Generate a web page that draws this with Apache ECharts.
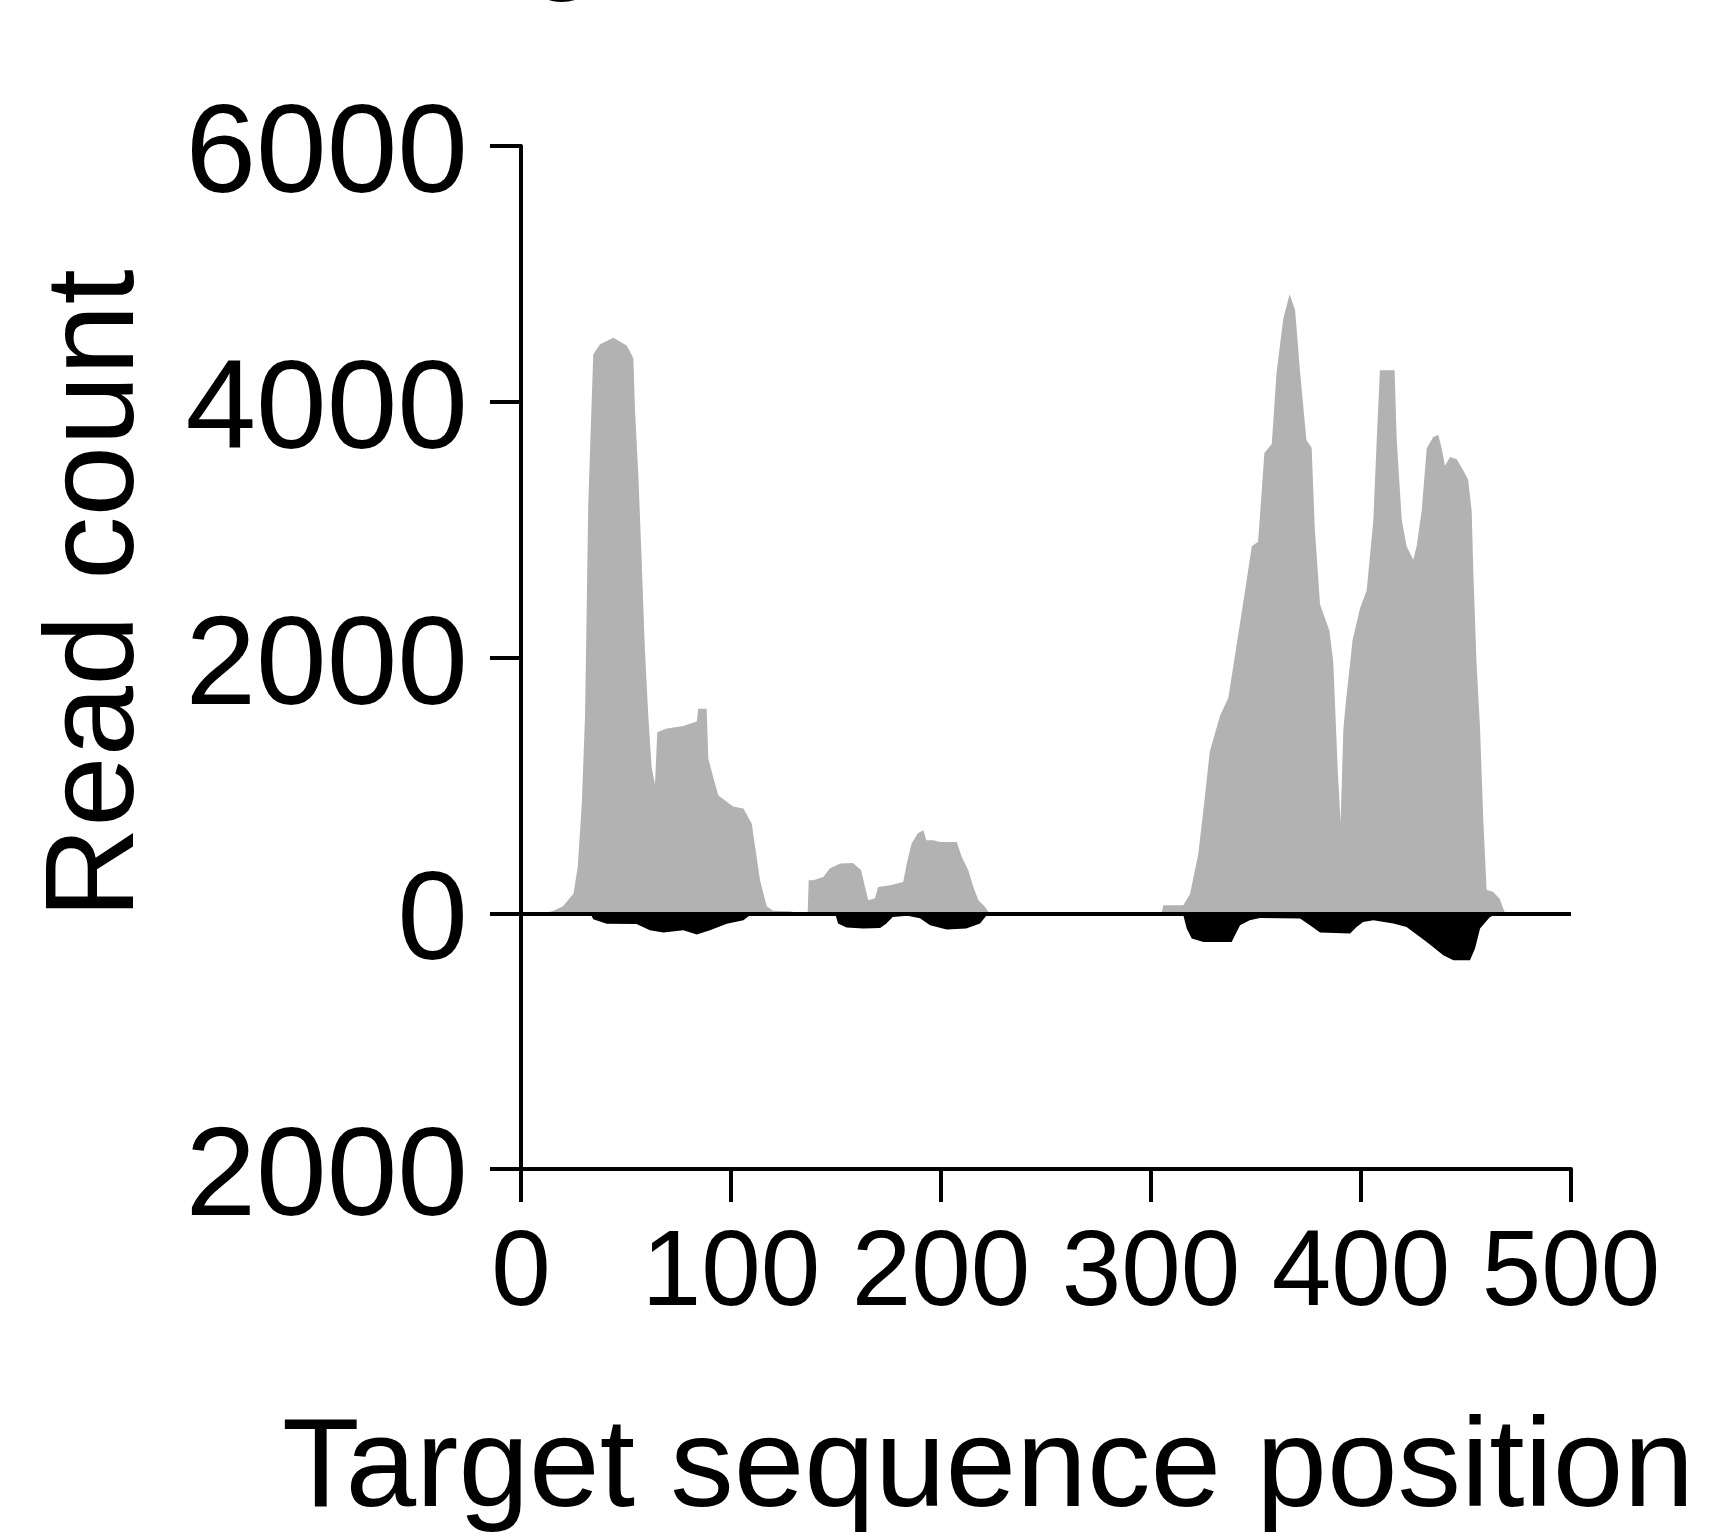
<!DOCTYPE html>
<html>
<head>
<meta charset="utf-8">
<script src="https://cdn.jsdelivr.net/npm/echarts@6/dist/echarts.min.js"></script>
<style>
  html, body { margin: 0; padding: 0; background: #ffffff; }
  #chart { width: 1712px; height: 1539px; }
</style>
</head>
<body>
<div id="chart"></div>
<script>
// Read coverage along the target: sense reads (grey, above 0) and antisense reads (black, below 0)
const senseX = [0, 10, 15, 20, 25, 27, 29, 30.5, 31.3, 32, 34.4, 37.6, 44, 50.3, 53.5, 54.3, 55.9, 57.5, 59, 60.6,
  62.2, 63.8, 64.9, 69.4, 77.3, 83.7, 84.4, 88.4, 89.2, 92.4, 94, 101, 105.9, 109.9, 111.4, 113.8, 117, 120, 128, 133,
  136.5, 137, 139.2, 144, 147, 152, 158, 162, 163.8, 165.4, 168.6, 170, 175.7, 182, 183.7, 186, 189, 191.6, 193, 196.3,
  199.5, 207.5, 209.9, 213, 215.4, 217.8, 221, 223, 305, 305.9, 315.4, 318.6, 322.5, 325.7, 328, 332.9, 336.8, 340.8,
  344.8, 348, 351, 354, 357.5, 359.8, 363, 366, 368.6, 371, 374, 376.5, 378, 380.5, 385, 386.8, 389, 390.3, 391.6, 393,
  396, 399.5, 402.7, 405.9, 407.5, 409, 416, 417, 419.4, 421.7, 424.9, 426.5, 428.9, 431.3, 434.4, 436.8, 438.4, 440,
  442.4, 445.6, 448.7, 451, 452.7, 453.5, 455, 456.7, 458.2, 459.8, 463, 466, 468.6, 500];
const senseCount = [0, 0, 15, 55, 155, 360, 870, 1550, 2400, 3180, 4370, 4450, 4500, 4440, 4340, 3930, 3420, 2740, 2060, 1550,
  1140, 1010, 1415, 1445, 1465, 1500, 1600, 1600, 1210, 1010, 920, 835, 820, 700, 530, 260, 55, 20, 15, 0,
  0, 258, 258, 284, 350, 390, 393, 336, 206, 102, 117, 205, 218, 245, 390, 545, 625, 650, 570, 570,
  557, 557, 440, 336, 206, 102, 49, 0, 0, 62, 62, 150, 462, 916, 1265, 1547, 1683, 2100,
  2523, 2870, 2905, 3600, 3670, 4230, 4650, 4840, 4720, 4230, 3700, 3640, 3008, 2415, 2207, 1962, 1094, 707, 1440, 1683,
  2137, 2383, 2523, 3078, 3706, 4247, 4247, 3706, 3078, 2870, 2765, 2870, 3148, 3637, 3725, 3742, 3637, 3500,
  3567, 3550, 3463, 3392, 3148, 2660, 1962, 1440, 742, 183, 166, 114, 0, 0];

const antisenseX = [0, 33, 34.4, 40.8, 55, 61.4, 67.8, 77.3, 83.7, 90, 98, 105.9, 109, 111,
  149.5, 151, 155, 163, 171, 174, 177, 184, 190, 194.8, 202.7, 212, 218.6, 222.5,
  314, 315.4, 317, 319.4, 325, 338.4, 340, 342.4, 347, 351.9, 371, 375.7, 380.5, 394.8, 397.9, 401,
  405.9, 415.4, 421.7, 431.3, 439.2, 444, 451.9, 454.3, 456.7, 461.4, 466, 500];
const antisenseCount = [0, 0, -47, -82, -85, -133, -150, -133, -166, -133, -82, -55, -15, 0,
  0, -80, -112, -120, -115, -80, -29, -20, -40, -94, -128, -120, -80, 0,
  0, -16, -120, -198, -224, -224, -172, -94, -55, -37, -41, -94, -151, -159, -107, -68,
  -55, -80, -107, -224, -328, -367, -367, -276, -120, -29, 0, 0];

const xTicks = { min: 0, max: 500, step: 100 };
const yTicks = { min: -2000, max: 6000, step: 2000 };

const pairs = (xs, ys) => xs.map((x, i) => [x, ys[i]]);

const FONT = '"Liberation Sans", Arial, Helvetica, sans-serif';
const chart = echarts.init(document.getElementById('chart'), null, { renderer: 'canvas' });

chart.setOption({
  backgroundColor: '#ffffff',
  animation: false,
  grid: { left: 521, top: 146, width: 1050, height: 1023, containLabel: false },
  xAxis: {
    type: 'value',
    min: xTicks.min, max: xTicks.max, interval: xTicks.step,
    position: 'bottom',
    axisLine: { onZero: false, lineStyle: { color: '#000', width: 4 } },
    axisTick: { show: true, length: 33, lineStyle: { color: '#000', width: 4 } },
    splitLine: { show: false },
    axisLabel: { color: '#000', fontSize: 107, fontFamily: FONT, margin: 53 }
  },
  yAxis: {
    type: 'value',
    min: yTicks.min, max: yTicks.max, interval: yTicks.step,
    axisLine: { show: true, lineStyle: { color: '#000', width: 4 } },
    axisTick: { show: true, length: 31, lineStyle: { color: '#000', width: 4 } },
    splitLine: { show: false },
    axisLabel: {
      margin: 53,
      formatter: v => '{v|' + Math.abs(v) + '}',
      rich: {
        v: { color: '#000', fontSize: 127, fontFamily: FONT, padding: [22, 0, 0, 0] }
      }
    }
  },
  series: [
    {
      name: 'sense',
      type: 'line',
      data: pairs(senseX, senseCount),
      showSymbol: false,
      symbol: 'none',
      lineStyle: { width: 0 },
      areaStyle: { color: '#b2b2b2', opacity: 1 },
      z: 2
    },
    {
      name: 'antisense',
      type: 'line',
      data: pairs(antisenseX, antisenseCount),
      showSymbol: false,
      symbol: 'none',
      lineStyle: { width: 0 },
      areaStyle: { color: '#000000', opacity: 1 },
      z: 3,
      markLine: {
        silent: true,
        symbol: ['none', 'none'],
        label: { show: false },
        lineStyle: { color: '#000', width: 4, type: 'solid' },
        data: [{ yAxis: 0 }]
      }
    }
  ],
  graphic: [
    {
      type: 'text',
      x: 98, y: 594,
      rotation: Math.PI / 2,
      style: {
        text: 'Read count', fill: '#000',
        font: '127px ' + FONT,
        textAlign: 'center', textVerticalAlign: 'middle'
      }
    },
    {
      type: 'text',
      x: 988, y: 1471,
      style: {
        text: 'Target sequence position', fill: '#000',
        font: '127px ' + FONT,
        textAlign: 'center', textVerticalAlign: 'middle'
      }
    },
    {
      type: 'text',
      x: 528, y: -59,
      style: {
        text: 'g', fill: '#000',
        font: '127px ' + FONT,
        textAlign: 'left', textVerticalAlign: 'middle'
      }
    }
  ]
});
</script>
</body>
</html>
